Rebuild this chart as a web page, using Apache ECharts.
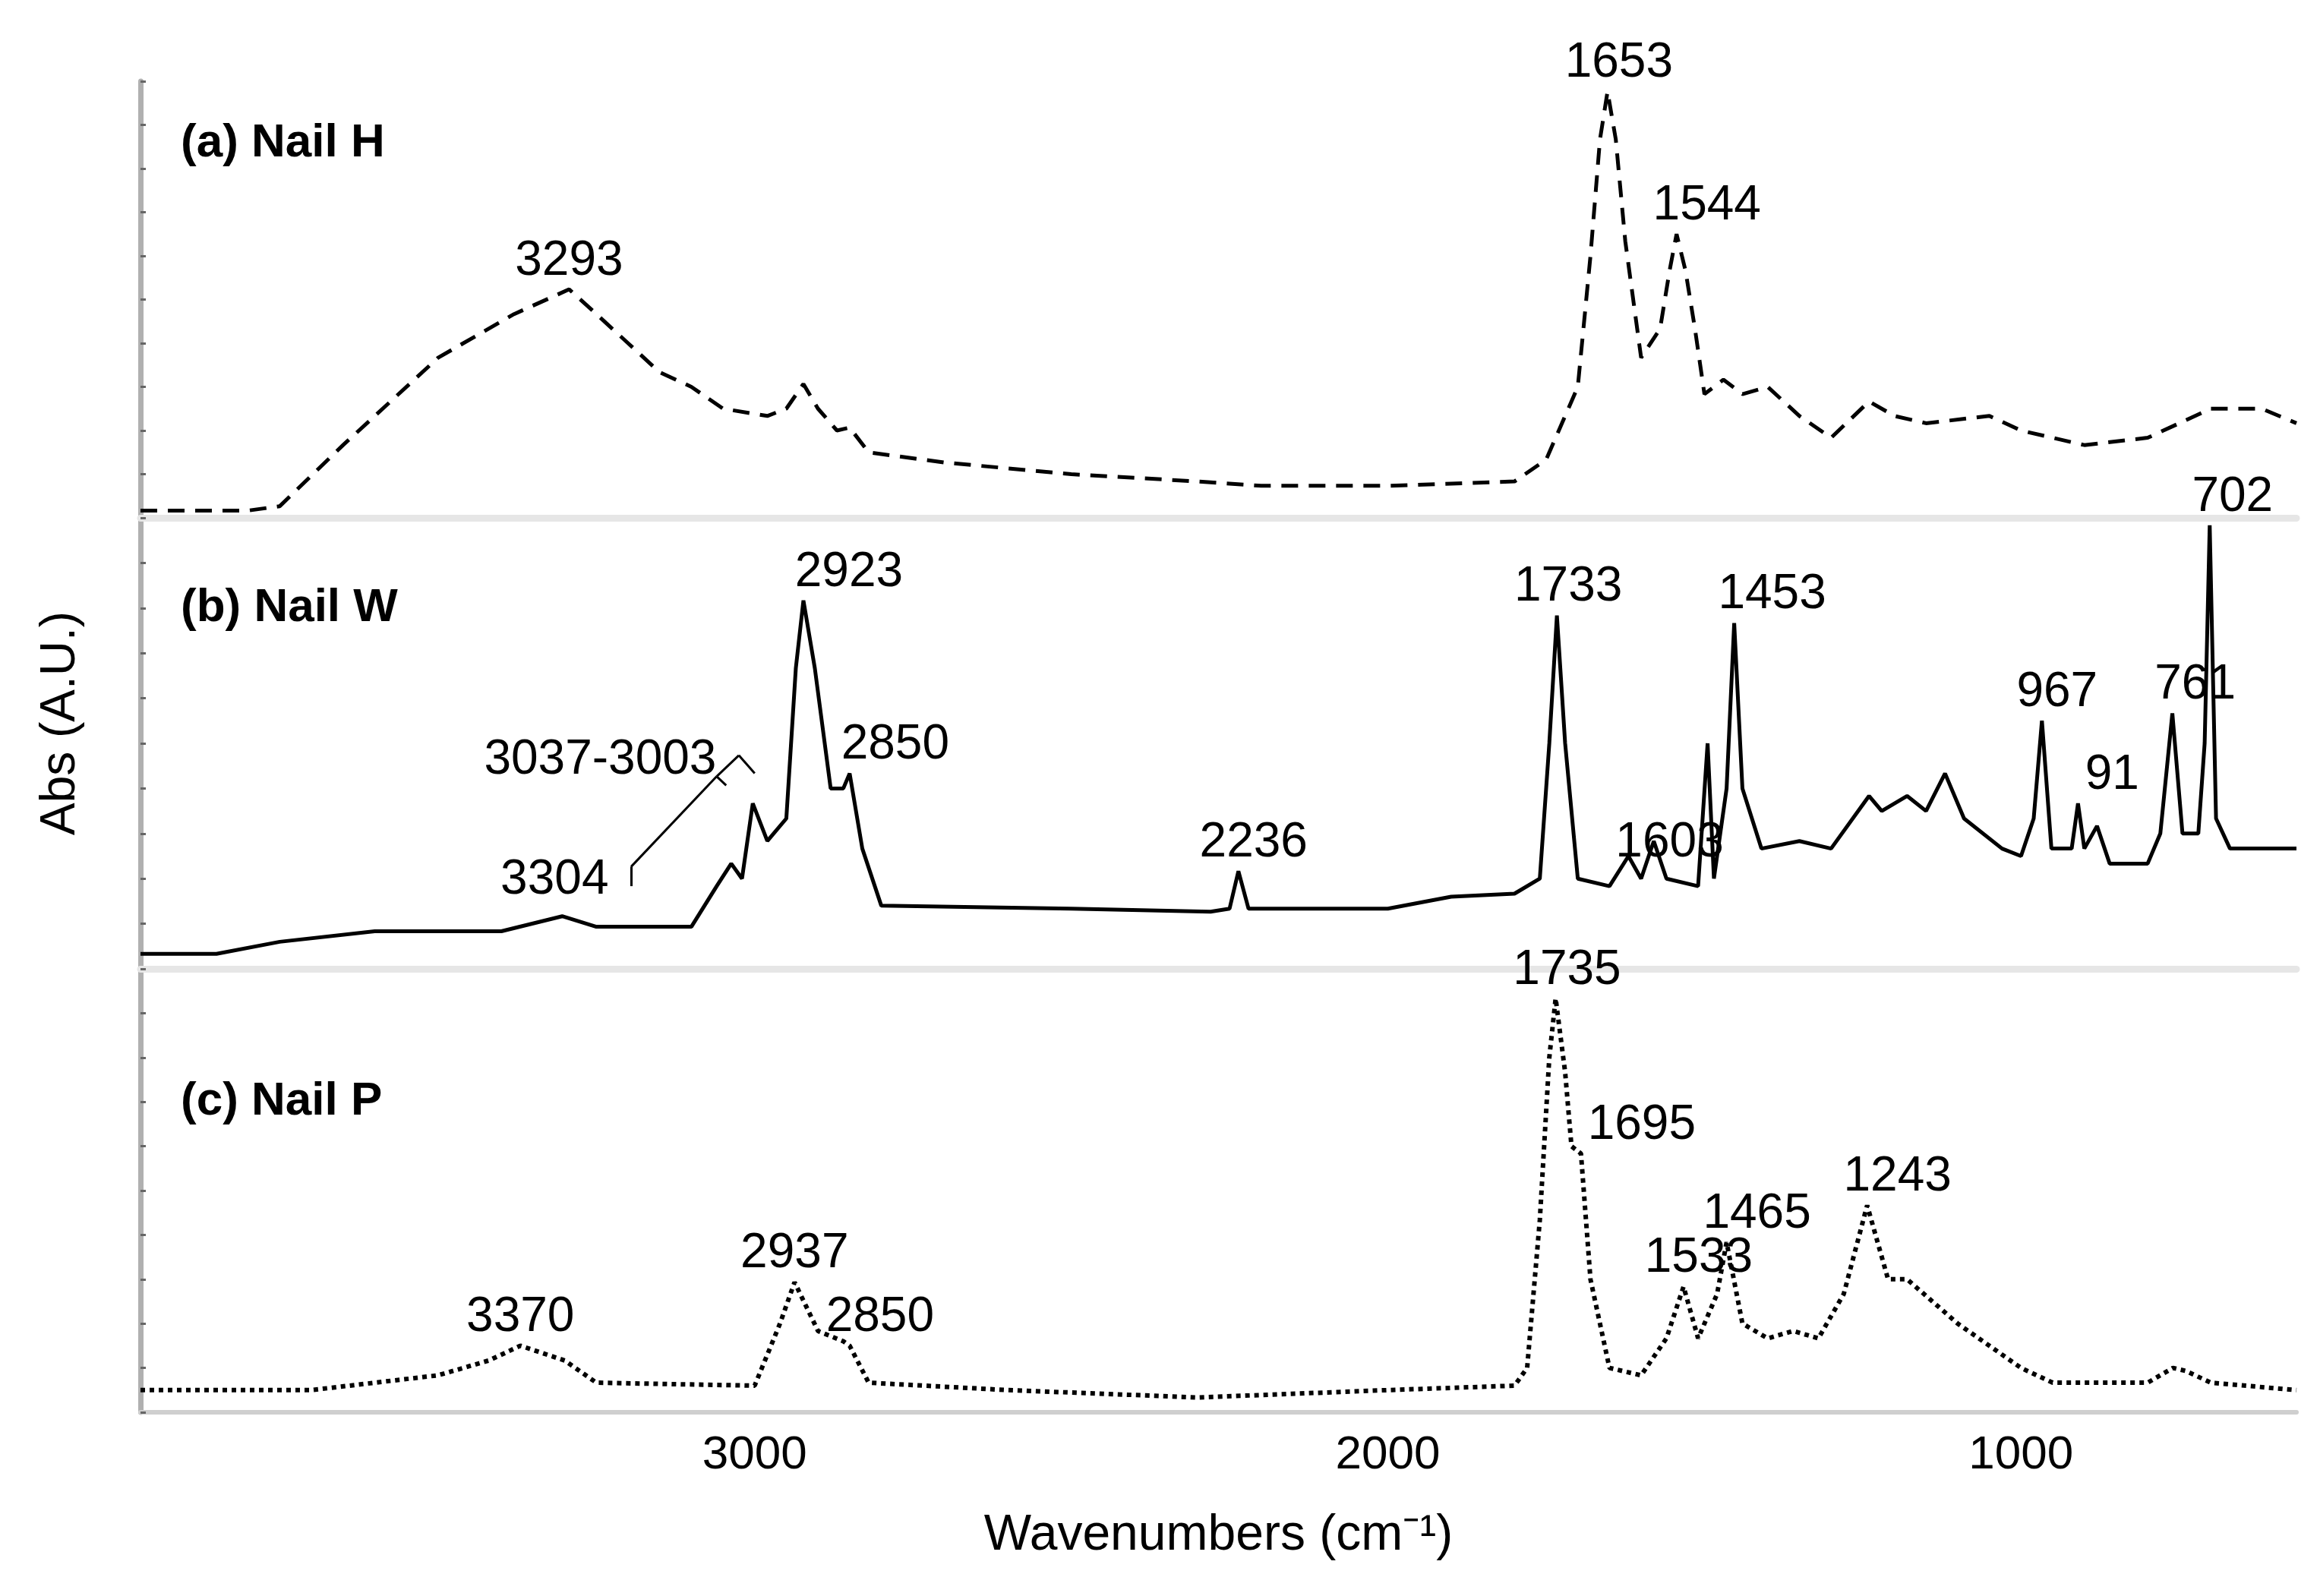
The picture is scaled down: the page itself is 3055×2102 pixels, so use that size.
<!DOCTYPE html>
<html><head><meta charset="utf-8">
<script src="https://cdn.jsdelivr.net/npm/echarts@6/dist/echarts.min.js"></script>
<style>html,body{margin:0;background:#fff}#c{width:3055px;height:2102px}</style>
</head><body><div id="c"></div>
<script>
const nailH = [[3970,5],[3800,5],[3750,8],[3650,50],[3500,110],[3380,140],[3293,157],[3250,140],[3200,120],[3150,100],[3100,90],[3050,75],[2980,70],[2950,75],[2923,92],[2900,75],[2870,60],[2850,62],[2820,45],[2700,38],[2500,30],[2300,25],[2200,22],[2000,22],[1800,25],[1750,40],[1700,90],[1680,180],[1665,260],[1653,293],[1640,260],[1625,190],[1600,110],[1570,130],[1555,170],[1544,195],[1530,170],[1515,130],[1500,85],[1470,95],[1440,85],[1400,90],[1350,70],[1300,55],[1240,80],[1200,70],[1150,65],[1050,70],[1000,60],[900,50],[800,55],[700,75],[620,75],[565,65]];
const nailW = [[3970,10],[3850,10],[3750,18],[3600,25],[3400,25],[3304,35],[3250,28],[3100,28],[3060,55],[3037,70],[3020,60],[3003,110],[2980,85],[2950,100],[2935,200],[2923,245],[2905,200],[2880,120],[2860,120],[2850,130],[2830,80],[2800,42],[2500,40],[2280,38],[2250,40],[2236,65],[2220,40],[2000,40],[1900,48],[1800,50],[1760,60],[1745,150],[1733,235],[1720,150],[1700,60],[1650,55],[1620,75],[1600,60],[1580,85],[1560,60],[1510,55],[1495,150],[1485,60],[1465,120],[1453,230],[1440,120],[1410,80],[1350,85],[1300,80],[1240,115],[1220,105],[1180,115],[1150,105],[1120,130],[1090,100],[1030,80],[1000,75],[980,100],[967,165],[952,80],[920,80],[910,110],[900,80],[880,95],[860,70],[800,70],[780,90],[761,170],[745,90],[720,90],[710,150],[702,295],[692,100],[670,80],[565,80]];
const nailP = [[3970,15],[3700,15],[3500,25],[3420,35],[3370,45],[3300,35],[3250,20],[3000,18],[2960,60],[2937,88],[2900,55],[2860,48],[2850,45],[2820,20],[2600,15],[2300,10],[2000,15],[1800,18],[1780,30],[1760,130],[1745,240],[1735,280],[1720,230],[1710,180],[1695,175],[1680,90],[1650,30],[1600,25],[1560,50],[1533,85],[1510,50],[1480,80],[1465,115],[1440,60],[1400,50],[1360,55],[1320,50],[1280,80],[1243,140],[1210,90],[1180,90],[1100,60],[1000,30],[950,20],[800,20],[760,30],[740,28],[700,20],[565,15]];
const panelNames = ['(a) Nail H','(b) Nail W','(c) Nail P'];
const peaksH = [[3293,157,'3293'],[1653,293,'1653',15,0],[1544,195,'1544',40,0]];
const peaksW = [[3304,35,'3304',-10,-10],[2923,245,'2923',60,0],[2850,130,'2850',60,0],[2236,65,'2236',20,0],[1733,235,'1733',15,0],[1603,85,'1603',40,40],[1453,230,'1453',50,0],[967,165,'967',20,0],[910,110,'91',45,0],[761,170,'761',30,0],[702,295,'702',30,0]];
const peaksP = [[3370,45,'3370'],[2937,88,'2937'],[2850,45,'2850',40,0],[1735,280,'1735',15,0],[1695,175,'1695',80,0],[1533,85,'1533',20,0],[1465,115,'1465',40,0],[1243,140,'1243',40,0]];
const xTicks = [3000,2000,1000];

const ch = echarts.init(document.getElementById('c'));
const F = 'Liberation Sans, Arial, sans-serif';
const tops = [107,682,1276], hs = [575,594,584];
const styles = [[5,[22,14]],[5,'solid'],[6,[6,6]]];
const datas = [nailH,nailW,nailP], peaks = [peaksH,peaksW,peaksP];
const grids=[],xs=[],ys=[],series=[];
for(let i=0;i<3;i++){
  grids.push({left:185,right:31,top:tops[i],height:hs[i]});
  xs.push({gridIndex:i,type:'value',inverse:true,min:565,max:3970,
    axisLine:{show:true,lineStyle:{color:i<2?'#e6e6e6':'#cfcfcf',width:i<2?9:6}},
    axisTick:{show:false},splitLine:{show:false},
    axisLabel:{show:i==2,fontFamily:F,fontSize:62,color:'#000',margin:26,
      customValues:xTicks,formatter:v=>String(v)},
    ...(i==2?{name:'Wavenumbers (cm\u207B\u00B9)',nameLocation:'middle',nameGap:130,nameTextStyle:{fontFamily:F,fontSize:66,color:'#000'}}:{})});
  ys.push({gridIndex:i,type:'value',min:0,max:300,interval:30,
    axisLine:{show:true,lineStyle:{color:'#b0b0b0',width:7}},
    axisTick:{show:true,inside:true,length:7,lineStyle:{color:'#666',width:3}},
    axisLabel:{show:false},splitLine:{show:false}});
  series.push({type:'line',xAxisIndex:i,yAxisIndex:i,data:datas[i],showSymbol:false,
    lineStyle:{color:'#000',width:styles[i][0],type:styles[i][1]},
    markPoint:{symbol:'circle',symbolSize:2,itemStyle:{color:'rgba(0,0,0,0)'},silent:true,
      label:{show:true,fontFamily:F,fontSize:64,color:'#000',formatter:p=>p.data.t},
      data:peaks[i].map(p=>({coord:[p[0],p[1]],t:p[2],label:{show:true,position:'top',distance:4,offset:[p[3]||0,p[4]||0]}}))
    },
    markLine: i==1?{symbol:'none',silent:true,label:{show:false},lineStyle:{color:'#000',width:3,type:'solid'},
      data:[[{coord:[3195,55]},{coord:[3195,68]}],[{coord:[3195,68]},{coord:[3060,128]}],[{coord:[3060,128]},{coord:[3045,122]}],[{coord:[3060,128]},{coord:[3025,142]}],[{coord:[3025,142]},{coord:[3000,130]}]]}:undefined
  });
}
series[1].markPoint.data.push({coord:[3040,140],t:'3037-3003',label:{show:true,position:'top',distance:4,offset:[-170,40]}});
ch.setOption({animation:false,grid:grids,xAxis:xs,yAxis:ys,series,
  graphic:[
    ...panelNames.map((n,i)=>({type:'text',left:238,top:[158,770,1420][i],style:{text:n,font:'bold 62px '+F,fill:'#000'}})),
    {type:'text',x:48,y:1100,rotation:Math.PI/2,style:{text:'Abs (A.U.)',font:'64px '+F,fill:'#000'}}
  ]});
</script></body></html>
